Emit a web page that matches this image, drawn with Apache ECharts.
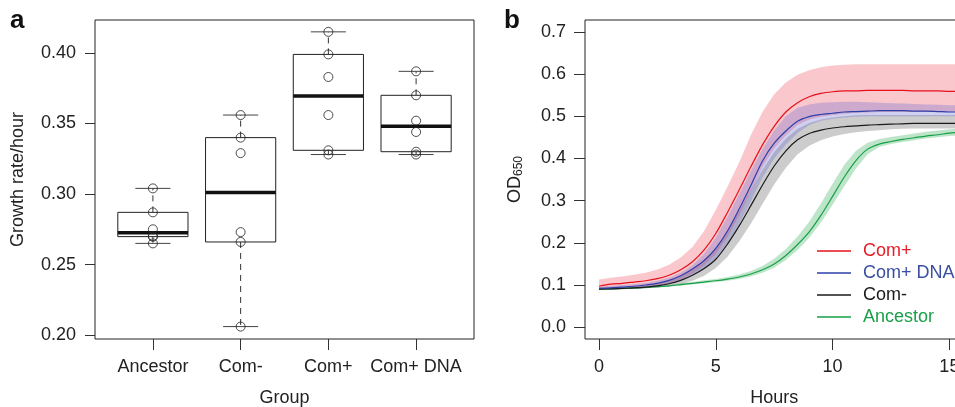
<!DOCTYPE html>
<html>
<head>
<meta charset="utf-8">
<script src="https://cdn.jsdelivr.net/npm/echarts@6/dist/echarts.min.js"></script>
<style>
  html, body { margin: 0; padding: 0; background: #fff; }
  #chart { width: 955px; height: 407px; }
</style>
</head>
<body>
<div id="chart"></div>
<script>
// panel a: growth rate per replicate
var groups = ['Ancestor', 'Com-', 'Com+', 'Com+ DNA'];
var rateAncestor = [0.304, 0.287, 0.275, 0.270, 0.2698, 0.265];
var rateComMinus = [0.356, 0.340, 0.329, 0.273, 0.266, 0.206];
var rateComPlus = [0.415, 0.399, 0.383, 0.356, 0.331, 0.328];
var rateComPlusDNA = [0.387, 0.370, 0.352, 0.344, 0.330, 0.328];
var rateTicks = [0.20, 0.25, 0.30, 0.35, 0.40];

// panel b: growth curves (mean and band)
var hours = [0, 0.5, 1, 1.5, 2, 2.5, 3, 3.5, 4, 4.5, 5, 5.5, 6, 6.5, 7, 7.5, 8, 8.5, 9, 9.5, 10, 10.5, 11, 11.5, 12, 12.5, 13, 13.5, 14, 14.5, 15, 15.5];
var odComPlus = [0.097, 0.102, 0.104, 0.107, 0.110, 0.115, 0.123, 0.136, 0.155, 0.183, 0.222, 0.272, 0.325, 0.380, 0.432, 0.476, 0.510, 0.532, 0.546, 0.554, 0.558, 0.560, 0.560, 0.561, 0.561, 0.561, 0.561, 0.560, 0.560, 0.560, 0.559, 0.559];
var odComPlusHi = [0.113, 0.117, 0.120, 0.124, 0.129, 0.137, 0.148, 0.165, 0.190, 0.228, 0.278, 0.333, 0.390, 0.455, 0.510, 0.552, 0.580, 0.598, 0.609, 0.616, 0.620, 0.622, 0.623, 0.623, 0.623, 0.623, 0.623, 0.623, 0.623, 0.623, 0.623, 0.623];
var odComPlusLo = [0.090, 0.091, 0.092, 0.094, 0.096, 0.099, 0.104, 0.113, 0.127, 0.146, 0.174, 0.214, 0.265, 0.322, 0.380, 0.424, 0.455, 0.479, 0.492, 0.499, 0.503, 0.506, 0.508, 0.509, 0.510, 0.510, 0.510, 0.510, 0.510, 0.510, 0.510, 0.510];
var odComPlusDNA = [0.092, 0.093, 0.095, 0.097, 0.100, 0.104, 0.111, 0.122, 0.138, 0.158, 0.187, 0.228, 0.280, 0.336, 0.394, 0.436, 0.465, 0.488, 0.499, 0.504, 0.507, 0.510, 0.511, 0.512, 0.513, 0.513, 0.513, 0.512, 0.512, 0.511, 0.510, 0.510];
var odComPlusDNAHi = [0.095, 0.098, 0.100, 0.102, 0.105, 0.110, 0.117, 0.129, 0.147, 0.174, 0.212, 0.262, 0.315, 0.370, 0.422, 0.466, 0.500, 0.520, 0.528, 0.532, 0.533, 0.534, 0.534, 0.533, 0.532, 0.531, 0.530, 0.529, 0.528, 0.527, 0.526, 0.526];
var odComPlusDNALo = [0.090, 0.091, 0.092, 0.093, 0.095, 0.098, 0.103, 0.111, 0.123, 0.139, 0.163, 0.198, 0.245, 0.298, 0.355, 0.400, 0.433, 0.460, 0.479, 0.489, 0.494, 0.497, 0.499, 0.500, 0.500, 0.500, 0.500, 0.500, 0.500, 0.500, 0.500, 0.500];
var odComMinus = [0.090, 0.091, 0.092, 0.093, 0.095, 0.098, 0.103, 0.111, 0.123, 0.139, 0.161, 0.197, 0.240, 0.288, 0.337, 0.382, 0.418, 0.444, 0.459, 0.467, 0.472, 0.475, 0.477, 0.479, 0.480, 0.481, 0.482, 0.483, 0.483, 0.483, 0.483, 0.483];
var odComMinusHi = [0.092, 0.093, 0.094, 0.096, 0.099, 0.103, 0.110, 0.121, 0.137, 0.158, 0.187, 0.228, 0.275, 0.325, 0.373, 0.415, 0.447, 0.470, 0.484, 0.492, 0.497, 0.500, 0.502, 0.503, 0.503, 0.503, 0.503, 0.503, 0.503, 0.503, 0.503, 0.503];
var odComMinusLo = [0.088, 0.089, 0.090, 0.091, 0.092, 0.094, 0.097, 0.102, 0.110, 0.122, 0.140, 0.167, 0.203, 0.245, 0.292, 0.338, 0.378, 0.410, 0.430, 0.443, 0.452, 0.458, 0.462, 0.465, 0.467, 0.469, 0.470, 0.471, 0.471, 0.471, 0.471, 0.471];
var odAncestor = [0.090, 0.091, 0.092, 0.093, 0.094, 0.096, 0.098, 0.101, 0.104, 0.107, 0.110, 0.114, 0.119, 0.126, 0.136, 0.150, 0.170, 0.196, 0.226, 0.265, 0.310, 0.356, 0.395, 0.422, 0.434, 0.440, 0.445, 0.449, 0.453, 0.456, 0.460, 0.462];
var odAncestorHi = [0.092, 0.093, 0.094, 0.095, 0.096, 0.098, 0.100, 0.104, 0.107, 0.111, 0.114, 0.119, 0.125, 0.133, 0.145, 0.162, 0.185, 0.215, 0.250, 0.293, 0.340, 0.385, 0.418, 0.437, 0.446, 0.451, 0.455, 0.459, 0.463, 0.466, 0.469, 0.471];
var odAncestorLo = [0.088, 0.089, 0.090, 0.091, 0.092, 0.094, 0.096, 0.099, 0.101, 0.104, 0.107, 0.110, 0.114, 0.120, 0.129, 0.141, 0.159, 0.183, 0.212, 0.248, 0.290, 0.334, 0.376, 0.410, 0.427, 0.434, 0.439, 0.443, 0.447, 0.450, 0.453, 0.455];
var odTicks = [0, 0.1, 0.2, 0.3, 0.4, 0.5, 0.6, 0.7];
var hourTicks = [0, 5, 10, 15];

var FONT = 'Liberation Sans, Arial, sans-serif';
var TXT = '#222';

// R-style hinges
function fivenum(arr) {
    var s = arr.slice().sort(function (a, b) { return a - b; });
    var n = s.length;
    var n4 = Math.floor((n + 3) / 2) / 2;
    var d = [1, n4, (n + 1) / 2, n + 1 - n4, n];
    return d.map(function (v) { return 0.5 * (s[Math.floor(v) - 1] + s[Math.ceil(v) - 1]); });
}

var rates = [rateAncestor, rateComMinus, rateComPlus, rateComPlusDNA];
var boxData = rates.map(function (r, i) { return [i + 1].concat(fivenum(r)); });
var pointData = [];
rates.forEach(function (r, i) { r.forEach(function (v) { pointData.push([i + 1, v]); }); });

function pairs(ys) { return hours.map(function (h, i) { return [h, ys[i]]; }); }

// shaded band drawn as one polygon (upper edge forward, lower edge back)
function band(lo, hi, color) {
    var items = hours.map(function (h, i) { return [h, lo[i], hi[i]]; });
    return {
        type: 'custom', xAxisIndex: 1, yAxisIndex: 1, data: items, silent: true, z: 1,
        encode: { x: 0, y: [1, 2] },
        renderItem: function (params, api) {
            if (params.dataIndex !== 0) return null;
            var pts = [];
            for (var i = 0; i < items.length; i++) pts.push(api.coord([items[i][0], items[i][2]]));
            for (var j = items.length - 1; j >= 0; j--) pts.push(api.coord([items[j][0], items[j][1]]));
            return { type: 'polygon', shape: { points: pts }, style: { fill: color } };
        }
    };
}

function curve(name, ys, color) {
    return {
        type: 'line', name: name, xAxisIndex: 1, yAxisIndex: 1, data: pairs(ys),
        symbol: 'none', smooth: 0.3, color: color, lineStyle: { width: 1.2, color: color }, z: 3
    };
}

var axisText = { fontFamily: FONT, fontSize: 18, color: TXT };
var noLine = { show: false, onZero: false };

var chart = echarts.init(document.getElementById('chart'), null, { renderer: 'canvas' });
var option = {
    animation: false,
    backgroundColor: '#fff',
    textStyle: { fontFamily: FONT },
    graphic: [
        { type: 'text', left: 10, top: 8, style: { text: 'a', font: 'bold 26px ' + FONT, fill: '#111' } },
        { type: 'text', left: 504, top: 8, style: { text: 'b', font: 'bold 26px ' + FONT, fill: '#111' } }
    ],
    grid: [
        { left: 95, top: 20, width: 379, height: 319, outerBoundsMode: 'none', containLabel: false, show: true, borderColor: '#222', borderWidth: 1, backgroundColor: 'transparent' },
        { left: 585, top: 20, width: 378.4, height: 319, outerBoundsMode: 'none', containLabel: false, show: true, borderColor: '#222', borderWidth: 1, backgroundColor: 'transparent' }
    ],
    xAxis: [{
        type: 'value', gridIndex: 0, min: 0.34, max: 4.66,
        axisLine: noLine, splitLine: { show: false },
        axisTick: { show: true, inside: false, length: 11, customValues: [1, 2, 3, 4], lineStyle: { color: '#333' } },
        axisLabel: Object.assign({ customValues: [1, 2, 3, 4], margin: 19, formatter: function (v) { return groups[Math.round(v) - 1]; } }, axisText),
        name: 'Group', nameLocation: 'middle', nameGap: 50, nameTextStyle: axisText
    }, {
        type: 'value', gridIndex: 1, min: -0.6, max: 15.6,
        axisLine: noLine, splitLine: { show: false },
        axisTick: { show: true, inside: false, length: 11, customValues: hourTicks, lineStyle: { color: '#333' } },
        axisLabel: Object.assign({ customValues: hourTicks, margin: 19 }, axisText),
        name: 'Hours', nameLocation: 'middle', nameGap: 50, nameTextStyle: axisText
    }],
    yAxis: [{
        type: 'value', gridIndex: 0, min: 0.1972, max: 0.4234,
        axisLine: noLine, splitLine: { show: false },
        axisTick: { show: true, inside: false, length: 10, customValues: rateTicks, lineStyle: { color: '#333' } },
        axisLabel: Object.assign({ customValues: rateTicks, margin: 19, formatter: function (v) { return v.toFixed(2); } }, axisText),
        name: 'Growth rate/hour', nameLocation: 'middle', nameGap: 68, nameTextStyle: axisText
    }, {
        type: 'value', gridIndex: 1, min: -0.028, max: 0.728,
        axisLine: noLine, splitLine: { show: false },
        axisTick: { show: true, inside: false, length: 11, customValues: odTicks, lineStyle: { color: '#333' } },
        axisLabel: Object.assign({ customValues: odTicks, margin: 19, formatter: function (v) { return v.toFixed(1); } }, axisText),
        name: 'OD{sub|650}', nameLocation: 'middle', nameGap: 60,
        nameTextStyle: Object.assign({ rich: { sub: { fontFamily: FONT, fontSize: 12, color: TXT, verticalAlign: 'bottom', padding: [8, 0, 0, 0] } } }, axisText)
    }],
    legend: {
        orient: 'vertical', left: 812, top: 237, itemWidth: 34, itemHeight: 1.5, itemGap: 4,
        icon: 'rect', selectedMode: false,
        textStyle: { fontFamily: FONT, fontSize: 18, lineHeight: 18, padding: [0, 0, 0, 7] },
        data: [
            { name: 'Com+', textStyle: { color: '#e61e28' } },
            { name: 'Com+ DNA', textStyle: { color: '#3a4fa0' } },
            { name: 'Com-', textStyle: { color: '#1a1a1a' } },
            { name: 'Ancestor', textStyle: { color: '#1ba04a' } }
        ]
    },
    series: [
        {
            type: 'custom', xAxisIndex: 0, yAxisIndex: 0, data: boxData, z: 2,
            encode: { x: 0, y: [1, 2, 3, 4, 5] },
            renderItem: function (params, api) {
                var x = api.value(0);
                var unit = api.size([1, 0])[0];
                var half = unit * 0.4, cap = unit * 0.2;
                var pMin = api.coord([x, api.value(1)]);
                var pQ1 = api.coord([x, api.value(2)]);
                var pMed = api.coord([x, api.value(3)]);
                var pQ3 = api.coord([x, api.value(4)]);
                var pMax = api.coord([x, api.value(5)]);
                var cx = pMed[0];
                var dash = { stroke: '#333', lineWidth: 1, lineDash: [6, 5] };
                return {
                    type: 'group', children: [
                        { type: 'line', shape: { x1: cx, y1: pQ3[1], x2: cx, y2: pMax[1] }, style: dash },
                        { type: 'line', shape: { x1: cx, y1: pQ1[1], x2: cx, y2: pMin[1] }, style: dash },
                        { type: 'line', shape: { x1: cx - cap, y1: pMax[1], x2: cx + cap, y2: pMax[1] }, style: { stroke: '#444', lineWidth: 1 } },
                        { type: 'line', shape: { x1: cx - cap, y1: pMin[1], x2: cx + cap, y2: pMin[1] }, style: { stroke: '#444', lineWidth: 1 } },
                        { type: 'rect', shape: { x: cx - half, y: pQ3[1], width: half * 2, height: pQ1[1] - pQ3[1] }, style: { fill: '#fff', stroke: '#222', lineWidth: 1 } },
                        { type: 'line', shape: { x1: cx - half, y1: pMed[1], x2: cx + half, y2: pMed[1] }, style: { stroke: '#111', lineWidth: 3.5 } }
                    ]
                };
            }
        }, {
            type: 'scatter', xAxisIndex: 0, yAxisIndex: 0, data: pointData, z: 3,
            symbol: 'circle', symbolSize: 9,
            itemStyle: { color: 'transparent', borderColor: '#222', borderWidth: 1 }
        },
        band(odComMinusLo, odComMinusHi, 'rgba(0,0,0,0.2)'),
        band(odAncestorLo, odAncestorHi, 'rgba(40,170,80,0.3)'),
        band(odComPlusLo, odComPlusHi, 'rgba(232,30,50,0.25)'),
        band(odComPlusDNALo, odComPlusDNAHi, 'rgba(100,100,210,0.3)'),
        curve('Ancestor', odAncestor, '#16a047'),
        curve('Com-', odComMinus, '#1a1a1a'),
        curve('Com+ DNA', odComPlusDNA, '#2e3fa8'),
        curve('Com+', odComPlus, '#e8101a')
    ]
};
chart.setOption(option);
</script>
</body>
</html>
